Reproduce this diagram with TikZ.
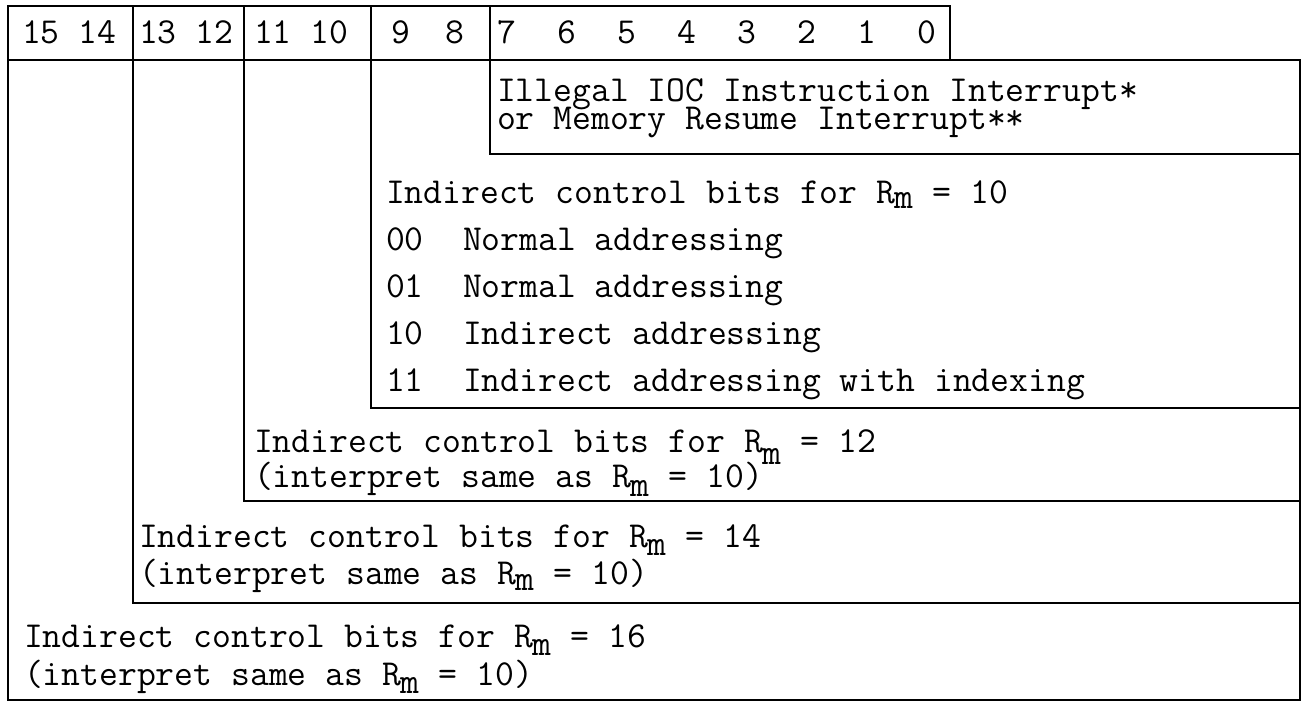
\documentclass[tikz,border=0pt]{standalone}
\usepackage{fontspec}
\setmonofont{Latin Modern Mono}
\newcommand\Rmsub[1]{R\raisebox{-#1pt}{m}}
\begin{document}
\begin{tikzpicture}[x=1pt,y=-1pt,
  txt/.style={anchor=base west, inner sep=0pt, outer sep=0pt, text=black,
              font=\ttfamily\fontsize{36.6}{40}\selectfont},
  frame/.style={draw=black, line width=2.4pt}]
\useasboundingbox (0,0) rectangle (1303,702);
% frame
\draw[frame] (8,6) rectangle (950,60);
\draw[frame] (950,60) -- (1300,60) -- (1300,700) -- (8,700) -- (8,60);
\draw[frame] (133,6) -- (133,603) -- (1300,603);
\draw[frame] (244,6) -- (244,501) -- (1300,501);
\draw[frame] (371,6) -- (371,408) -- (1300,408);
\draw[frame] (490,6) -- (490,154) -- (1300,154);
% header
\node[txt] (h1514) at (22,43) {15 14};
\node[txt] (h1312) at (139,43) {13 12};
\node[txt] (h1110) at (254,43) {11 10};
\node[txt] (b9) at (391,43) {9};
\node[txt] (b8) at (445,43) {8};
\foreach \b [count=\i from 0] in {7,6,5,4,3,2,1,0}
  \node[txt] (b\b) at ({497+60*\i},43) {\b};
% interrupt box
\node[txt] (ill) at (497,101) {Illegal IOC Instruction Interrupt*};
\node[txt] (mem) at (497,129) {or Memory Resume Interrupt**};
% Rm = 10
\node[txt] (r10) at (386,203) {Indirect control bits for \Rmsub{5} = 10};
\node[txt] (c00) at (386,250) {00};
\node[txt] (d00) at (463,250) {Normal addressing};
\node[txt] (c01) at (386,297) {01};
\node[txt] (d01) at (463,297) {Normal addressing};
\node[txt] (c10) at (386,344) {10};
\node[txt] (d10) at (463,344) {Indirect addressing};
\node[txt] (c11) at (386,391) {11};
\node[txt] (d11) at (463,391) {Indirect addressing with indexing};
% Rm = 12
\node[txt] (r12a) at (254,452) {Indirect control bits for \Rmsub{12} = 12};
\node[txt] (r12b) at (254,487) {(interpret same as \Rmsub{9} = 10)};
% Rm = 14
\node[txt] (r14a) at (139,547) {Indirect control bits for \Rmsub{8} = 14};
\node[txt] (r14b) at (139,584) {(interpret same as \Rmsub{6} = 10)};
% Rm = 16
\node[txt] (r16a) at (24,647) {Indirect control bits for \Rmsub{8} = 16};
\node[txt] (r16b) at (24,685) {(interpret same as \Rmsub{8} = 10)};
\end{tikzpicture}
\end{document}
